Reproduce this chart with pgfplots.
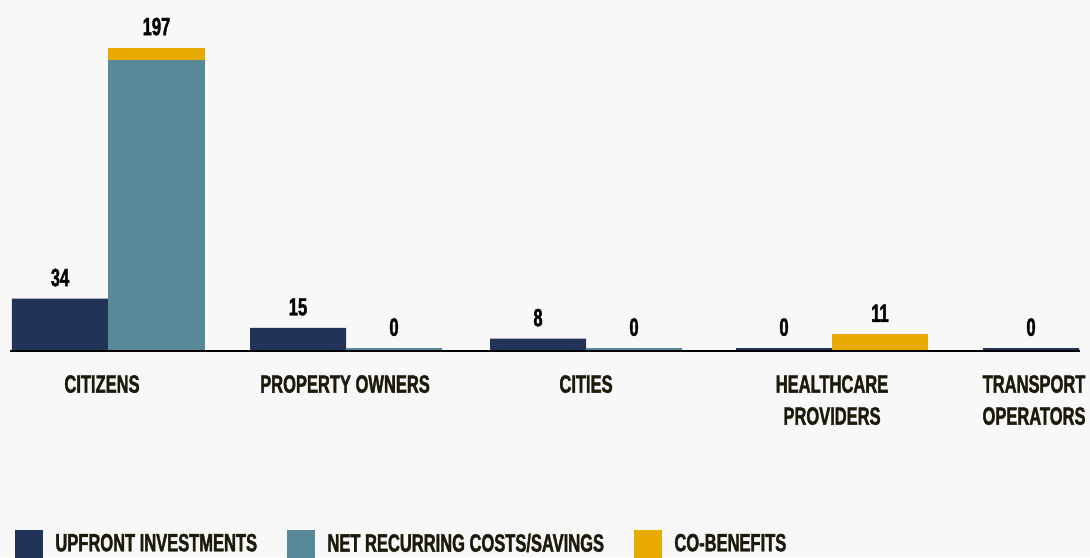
\documentclass[border=0pt]{standalone}
\usepackage{pgfplots}
\pgfplotsset{compat=1.18}
\usepackage{fontspec}
\setmainfont{Liberation Sans}[FakeStretch=0.66, BoldFeatures={FakeBold=1.5}]
\usetikzlibrary{backgrounds}
\definecolor{navy}{HTML}{213357}
\definecolor{cteal}{HTML}{588998}
\definecolor{gold}{HTML}{E6AA00}
\definecolor{txt}{HTML}{1C1A0A}
\definecolor{bg}{HTML}{F8F8F8}
\newcommand{\lfont}{\fontsize{25}{32}\selectfont\bfseries}
\begin{document}
\begin{tikzpicture}
\begin{axis}[
  scale only axis, width=1070pt, height=351pt,
  xmin=10, xmax=1080, ymin=0, ymax=227.9,
  axis x line*=bottom, axis y line=none,
  x axis line style={-, line width=1.2pt, black},
  axis on top,
  clip=false,
  xtick={102,345,586,832,1034},
  xticklabels={CITIZENS, PROPERTY OWNERS, CITIES, {HEALTHCARE\\PROVIDERS}, {TRANSPORT\\OPERATORS}},
  major tick length=0pt,
  xticklabel style={font=\lfont, text=txt, align=center, inner sep=0pt, anchor=north, yshift=-24pt},
  ytick=\empty,
  point meta=explicit symbolic,
  every node near coord/.append style={font=\lfont, text=black, anchor=south, inner sep=0pt, yshift=12pt},
  legend columns=3,
  legend style={at={(axis cs:15,-133.76)}, anchor=south west, draw=none, fill=none,
    inner sep=0pt, outer sep=0pt, font=\lfont, text=txt, nodes={inner sep=0pt},
    /tikz/every odd column/.append style={column sep=13pt},
    /tikz/every even column/.append style={column sep=30pt}},
]
% upfront investments (non-zero)
\addplot[ybar, bar shift=0pt, bar width=96, fill=navy, draw=none, nodes near coords, forget plot]
  coordinates {(60,34) [34] (298,15) [15] (538,8) [8]};
% upfront investments (zero)
\addplot[ybar, bar shift=0pt, bar width=96, fill=navy, draw=navy, line width=3pt, yshift=1.5pt, nodes near coords, forget plot]
  coordinates {(784,0) [0] (1031,0) [0]};
% citizens: net recurring 189 + co-benefits 8 = 197 (stack top drawn first)
\addplot[ybar, bar shift=0pt, bar width=96.5, fill=gold, draw=none, nodes near coords, forget plot]
  coordinates {(156.5,197) [197]};
\addplot[ybar, bar shift=0pt, bar width=96.5, fill=cteal, draw=none, forget plot]
  coordinates {(156.5,189)};
% net recurring (zero)
\addplot[ybar, bar shift=0pt, bar width=96, fill=cteal, draw=cteal, line width=3pt, yshift=1.5pt, nodes near coords, forget plot]
  coordinates {(394,0) [0] (634,0) [0]};
% co-benefits healthcare
\addplot[ybar, bar shift=0pt, bar width=96, fill=gold, draw=none, nodes near coords, forget plot]
  coordinates {(880,11) [11]};

\addlegendimage{legend image code/.code={\fill[navy] (0pt,-13.5pt) rectangle (27pt,13.5pt);}}
\addlegendentry{UPFRONT INVESTMENTS}
\addlegendimage{legend image code/.code={\fill[cteal] (0pt,-13.5pt) rectangle (27pt,13.5pt);}}
\addlegendentry{NET RECURRING COSTS/SAVINGS}
\addlegendimage{legend image code/.code={\fill[gold] (0pt,-13.5pt) rectangle (27pt,13.5pt);}}
\addlegendentry{CO-BENEFITS}

\coordinate (BL) at (axis cs:0,-133.76);
\coordinate (TR) at (axis cs:1090,227.9);
\end{axis}
\pgfresetboundingbox
\path[use as bounding box] (BL) rectangle (TR);
\begin{scope}[on background layer]
\fill[bg] (BL) rectangle (TR);
\end{scope}
\end{tikzpicture}
\end{document}
